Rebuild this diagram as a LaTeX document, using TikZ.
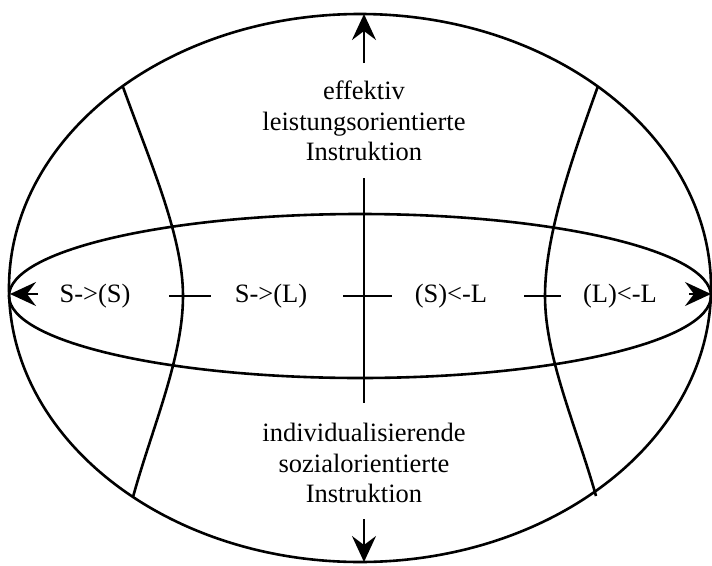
\documentclass[tikz,border=0pt]{standalone}
\usepackage{fontspec}
\setmainfont{Liberation Serif}
\usetikzlibrary{arrows.meta, positioning}

\begin{document}
\begin{tikzpicture}[x=1pt, y=-1pt, line width=2.6pt,
    label/.style={inner sep=0pt, font=\fontsize{26.5}{30.5}\selectfont},
    block/.style={label, align=center},
    tip/.style={-{Stealth[length=26pt, width=24pt, inset=9pt]}}]
  \useasboundingbox (0,0) rectangle (712,565);
  % Outer ellipse and the flat inner one
  \draw (360,288) ellipse [x radius=351pt, y radius=274pt];
  \draw (360,296) ellipse [x radius=351pt, y radius=82pt];
  % Left and right meridians
  \draw (123,87) .. controls (150,162) and (183,236) .. (183,296)
                 .. controls (183,358) and (152,428) .. (133,497);
  \draw (598,86) .. controls (571,161) and (545,236) .. (545,296)
                 .. controls (545,358) and (577,428) .. (596,496);
  % Upper and lower poles
  \node[block] (effektiv) at (364,121) {effektiv\\ leistungsorientierte\\ Instruktion};
  \node[block] (sozial) at (364,463) {individualisierende\\ sozialorientierte\\ Instruktion};
  \coordinate (north) at (364,14);
  \coordinate (south) at (364,562);
  \draw[tip] (effektiv.north |- 0,63) -- (north);
  \draw[tip] (sozial.south |- 0,519) -- (south);
  \draw (effektiv.south |- 0,178) -- (sozial.north |- 0,403);
  % Row of positions
  \node[label] (ss) at (95,296) {S->(S)};
  \node[label] (sl) at (271,296) {S->(L)};
  \node[label] (ls) at (451,296) {(S)<-L};
  \node[label] (ll) at (620,296) {(L)<-L};
  \coordinate (west) at (10,294);
  \coordinate (east) at (711,294);
  \draw[tip] (38,294) -- (west);
  \draw[tip] (689,294) -- (east);
  % Separators
  \draw (169,296) -- (211,296);
  \draw (343,296) -- (392,296);
  \draw (524,296) -- (561,296);
\end{tikzpicture}
\end{document}
